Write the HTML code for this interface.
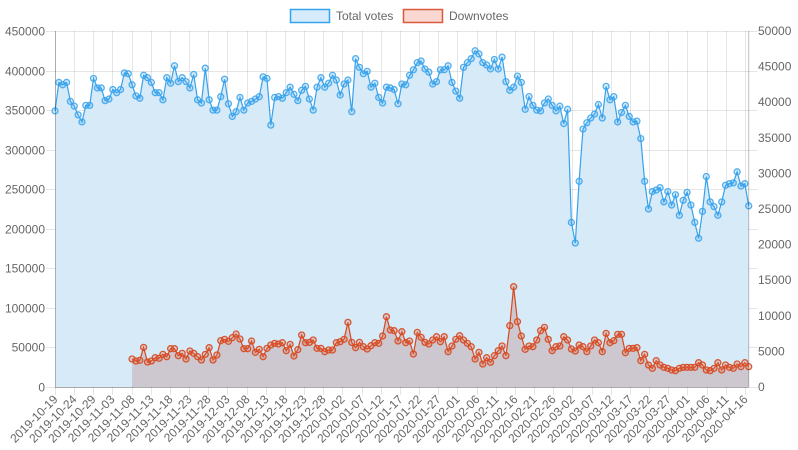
<!DOCTYPE html>
<html><head><meta charset="utf-8">
<style>
html,body{margin:0;padding:0;background:#fff;width:798px;height:450px;overflow:hidden}
svg{display:block;font-family:"Liberation Sans",Arial,sans-serif}
</style></head>
<body>
<svg id="chart" width="798" height="450" viewBox="0 0 798 450" xmlns="http://www.w3.org/2000/svg">
  <g id="grid"></g>
  <g id="series"></g>
  <g id="axes"></g>
  <g id="legend">
    <g>
      <rect x="290.5" y="9.5" width="39" height="13" fill="rgba(54,162,235,0.2)" stroke="rgb(54,162,235)" stroke-width="1.5"></rect>
      <text x="336" y="20" font-size="12" fill="#666">Total votes</text>
    </g>
    <g>
      <rect x="403.5" y="9.5" width="39" height="13" fill="rgba(230,100,70,0.25)" stroke="rgb(218,90,60)" stroke-width="1.5"></rect>
      <text x="449" y="20" font-size="12" fill="#666">Downvotes</text>
    </g>
  </g>
</svg>
<script>
const totalVotes = [349,385,382,385,361,355,344,335,356,356,390,378,378,362,364,376,372,376,397,396,382,368,365,394,391,385,372,372,363,
391,384,406,386,391,386,378,395,363,359,403,363,350,350,367,389,358,342,348,366,350,359,361,364,367,392,390,331,366,367,365,372,379,
370,362,375,380,364,350,379,391,379,384,394,388,369,383,388,348,415,404,396,399,379,384,366,359,379,378,376,358,383,382,394,401,410,412,402,398,383,386,401,401,406,385,374,365,404,410,415,425,421,410,407,402,414,402,417,386,375,379,
393,385,351,367,356,350,349,359,364,356,349,355,333,351,208,182,260,326,334,340,345,357,340,380,363,367,335,347,356,342,335,336,314,260,225,247,249,252,234,247,230,243,217,236,246,230,208,188,222,266,234,228,217,234,255,257,258,272,254,257,229].map(v=>v*1000);
const downStart = 20;
const downvotes = [3931,3650,3744,5570,3510,3650,4118,4025,4586,4258,5382,5382,4399,4726,3931,5054,4726,4258,3791,4586,5522,3791,4493,6505,6692,6411,6926,7441,6739,5382,5382,6458,4867,5288,4258,5428,5897,6130,6037,6224,5101,5990,4352,5241,7301,6224,6270,6599,5428,5428,4961,5195,5195,6224,6364,
6692,9080,6270,5522,6270,5663,5335,5803,6224,6130,7160,9876,8003,7909,6458,7768,6224,6458,4633,7675,6973,6270,6037,6599,7067,6364,7067,4961,5756,6692,7207,6599,6130,5663,3931,4867,3229,4118,3463,4399,5101,5756,4399,8612,14087,9173,7160,5288,5756,5663,6599,
7909,8377,6692,5101,5663,5756,7067,6599,5335,5054,5897,5663,4961,5756,6599,6224,4961,7535,6224,6505,7394,7394,4820,5428,5428,5522,3697,4586,3089,2621,3697,3089,2761,2621,2387,2293,2621,2761,2761,2761,2761,3416,3089,2387,2293,2621,3416,2387,3089,2761,2621,3229,2855,3416,2855];
const leftTicks = [0,50000,100000,150000,200000,250000,300000,350000,400000,450000];
const rightTicks = [0,5000,10000,15000,20000,25000,30000,35000,40000,45000,50000];
const dateLabels = ["2019-10-19","2019-10-24","2019-10-29","2019-11-03","2019-11-08","2019-11-13","2019-11-18","2019-11-23","2019-11-28","2019-12-03","2019-12-08","2019-12-13","2019-12-18","2019-12-23","2019-12-28","2020-01-02","2020-01-07","2020-01-12","2020-01-17","2020-01-22","2020-01-27","2020-02-01","2020-02-06","2020-02-11","2020-02-16","2020-02-21","2020-02-26","2020-03-02","2020-03-07","2020-03-12","2020-03-17","2020-03-22","2020-03-27","2020-04-01","2020-04-06","2020-04-11","2020-04-16"];

const NS="http://www.w3.org/2000/svg";
const X0=55, X1=748.7, Y0=387, Y1=31;
const N = totalVotes.length;
function xPos(i){return X0+i*(X1-X0)/(N-1);}
function xTick(k){return X0+k*5*3.833;}
function yL(v){return Y0-(v/450000)*(Y0-Y1);}
function yR(v){return Y0-(v/50000)*(Y0-Y1);}
function mk(tag,attrs,parent){const e=document.createElementNS(NS,tag);for(const k in attrs)e.setAttribute(k,attrs[k]);parent.appendChild(e);return e;}

const grid=document.getElementById('grid'), axes=document.getElementById('axes'), series=document.getElementById('series');
leftTicks.forEach((t,k)=>{
  const y=Math.round(yL(t))+0.5;
  const l=mk('line',{x1:X0-9,x2:X1+9,y1:y,y2:y,stroke:'rgba(0,0,0,0.1)','stroke-width':1},grid);
  
  
  const tx=mk('text',{x:45,y:y+4,'text-anchor':'end','font-size':12,fill:'#666'},axes);
  tx.textContent=t;
  
  
});
rightTicks.forEach(t=>{
  const y=yR(t);
  const tx=mk('text',{x:758,y:y+4,'font-size':12,fill:'#666'},axes);
  tx.textContent=t;
  
  
});
dateLabels.forEach((d,k)=>{
  const x=Math.round(xTick(k))+0.5;
  const l=mk('line',{x1:x,x2:x,y1:Y1,y2:Y0+8,stroke:'rgba(0,0,0,0.1)','stroke-width':1},grid);
  
  
  const tx=mk('text',{x:x+3,y:Y0+13,'text-anchor':'end','font-size':12,fill:'#666',transform:`rotate(-45 ${x+3} ${Y0+13})`},axes);
  tx.textContent=d;
  
  
});
let a=mk('line',{x1:X0+0.5,x2:X0+0.5,y1:Y1,y2:Y0,stroke:'rgba(0,0,0,0.25)'},axes);


a=mk('line',{x1:X1,x2:X1,y1:Y1,y2:Y0,stroke:'rgba(0,0,0,0.25)'},axes);


a=mk('line',{x1:X0,x2:X1,y1:Y0+0.5,y2:Y0+0.5,stroke:'rgba(0,0,0,0.25)'},axes);



// total votes
let pts=totalVotes.map((v,i)=>[xPos(i),yL(v)]);
let line=pts.map((p,i)=>(i?'L':'M')+p[0].toFixed(1)+' '+p[1].toFixed(1)).join(' ');
let ar=mk('path',{d:line+` L${xPos(N-1)} ${Y0} L${X0} ${Y0} Z`,fill:'#d7eaf8',stroke:'none'},series);


// downvotes
let dpts=downvotes.map((v,j)=>[xPos(j+downStart),yR(v)]);
let dline=dpts.map((p,i)=>(i?'L':'M')+p[0].toFixed(1)+' '+p[1].toFixed(1)).join(' ');
let dar=mk('path',{d:dline+` L${dpts[dpts.length-1][0]} ${Y0} L${dpts[0][0]} ${Y0} Z`,fill:'#cdc8cf',stroke:'none'},series);



let tl=mk('path',{d:line,fill:'none',stroke:'rgb(54,162,235)','stroke-width':1.2},series);


pts.forEach(p=>{
  const c=mk('circle',{cx:p[0],cy:p[1],r:3,fill:'rgba(54,162,235,0.2)',stroke:'rgba(54,162,235,0.85)','stroke-width':1.3},series);
  
  
});
let dl=mk('path',{d:dline,fill:'none',stroke:'rgb(214,72,30)','stroke-width':1.2},series);


dpts.forEach(p=>{
  const c=mk('circle',{cx:p[0],cy:p[1],r:3,fill:'rgba(230,100,70,0.25)',stroke:'rgba(214,72,30,0.9)','stroke-width':1.3},series);
  
  
});
</script>
</body></html>
